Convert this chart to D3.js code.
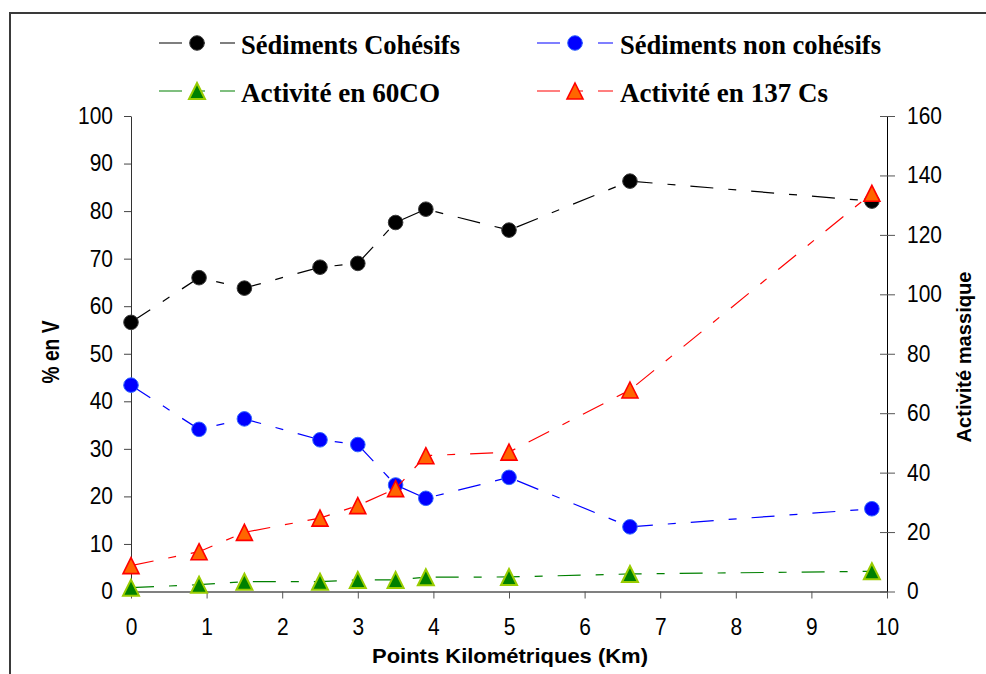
<!DOCTYPE html>
<html>
<head>
<meta charset="utf-8">
<script src="https://cdn.jsdelivr.net/npm/d3@7"></script>
<style>
  html, body { margin: 0; padding: 0; background: #fff; }
  svg { display: block; }
</style>
</head>
<body>
<svg id="chart" width="986" height="674"></svg>
<script>
// Sampling points along the river (km)
const km = [0, 0.9, 1.5, 2.5, 3, 3.5, 3.9, 5, 6.6, 9.8];
// Sediment fractions, % by volume (left axis)
const cohesifs    = [56.6, 66.0, 63.8, 68.2, 69.0, 77.6, 80.4, 76.0, 86.3, 82.1];
const nonCohesifs = [43.4, 34.1, 36.3, 31.9, 30.9, 22.4, 19.6, 24.0, 13.6, 17.4];
// Mass activities (right axis)
const co60  = [1.3, 2.3, 3.3, 3.3, 3.9, 3.9, 4.8, 4.9, 5.9, 6.8];
const cs137 = [8.7, 13.4, 19.9, 24.7, 28.9, 34.6, 45.7, 46.9, 67.8, 134];

const xTicks = [0, 1, 2, 3, 4, 5, 6, 7, 8, 9, 10];
const leftTicks = [0, 10, 20, 30, 40, 50, 60, 70, 80, 90, 100];
const rightTicks = [0, 20, 40, 60, 80, 100, 120, 140, 160];

const seriesNames = ["Sédiments Cohésifs", "Sédiments non cohésifs", "Activité en 60CO", "Activité en 137 Cs"];

const svg = d3.select("#chart");
const plotLeft = 131, plotRight = 887, plotTop = 116, plotBottom = 591.5;

const x = d3.scaleLinear().domain([0, 10]).range([plotLeft, plotRight]);
const yL = d3.scaleLinear().domain([0, 100]).range([plotBottom, plotTop]);
const yR = d3.scaleLinear().domain([0, 160]).range([plotBottom, plotTop]);

const dash = "23,15,8,15";
const tickFont = "'Liberation Sans', Arial, sans-serif";

// outer frame
svg.append("rect")
  .attr("x", 10).attr("y", 13)
  .attr("width", 1000).attr("height", 700)
  .attr("fill", "none").attr("stroke", "#3a3a3a").attr("stroke-width", 2);

// axes
const gx = svg.append("g").attr("transform", `translate(0,${plotBottom})`)
  .call(d3.axisBottom(x).tickValues(xTicks).tickSize(7).tickSizeOuter(0).tickPadding(20).tickFormat(d3.format("d")));
gx.select(".domain").attr("stroke", "#808080").attr("stroke-width", 2);
gx.selectAll(".tick line").attr("stroke", "#555");

const gl = svg.append("g").attr("transform", `translate(${plotLeft},0)`)
  .call(d3.axisLeft(yL).tickValues(leftTicks).tickSize(7).tickSizeOuter(0).tickPadding(11));
gl.select(".domain").attr("stroke", "#333");
gl.selectAll(".tick line").attr("stroke", "#444");

const gr = svg.append("g").attr("transform", `translate(${plotRight},0)`)
  .call(d3.axisRight(yR).tickValues(rightTicks).tickSize(8).tickSizeOuter(0).tickPadding(12));
gr.select(".domain").attr("stroke", "#000");
gr.selectAll(".tick line").attr("x1", -7).attr("stroke", "#555");

// tick labels: slightly narrow sans digits
svg.selectAll(".tick text")
  .attr("font-family", tickFont).attr("font-size", 23).attr("fill", "#000")
  .each(function () {
    const w = this.getComputedTextLength();
    d3.select(this).attr("textLength", w * 0.91).attr("lengthAdjust", "spacingAndGlyphs");
  });

// axis titles
svg.append("text")
  .attr("transform", "translate(59,352) rotate(-90)")
  .attr("text-anchor", "middle")
  .attr("font-family", tickFont).attr("font-weight", "bold").attr("font-size", 23)
  .attr("textLength", 63).attr("lengthAdjust", "spacingAndGlyphs")
  .text("% en V");

svg.append("text")
  .attr("transform", "translate(971,357) rotate(-90)")
  .attr("text-anchor", "middle")
  .attr("font-family", tickFont).attr("font-weight", "bold").attr("font-size", 21)
  .attr("textLength", 171).attr("lengthAdjust", "spacingAndGlyphs")
  .text("Activité massique");

svg.append("text")
  .attr("x", 510).attr("y", 663)
  .attr("text-anchor", "middle")
  .attr("font-family", tickFont).attr("font-weight", "bold").attr("font-size", 21)
  .attr("textLength", 276).attr("lengthAdjust", "spacingAndGlyphs")
  .text("Points Kilométriques (Km)");

// markers
function triangle(w, h) {
  return `M0,${-h / 2}L${w / 2},${h / 2}L${-w / 2},${h / 2}Z`;
}
const styles = [
  { line: "#000000", shape: "circle", fill: "#000000", stroke: "#3a3a3a", sw: 1 },
  { line: "#0000ff", shape: "circle", fill: "#0000ff", stroke: "#3366ff", sw: 1 },
  { line: "#008000", shape: "tri", fill: "#008000", stroke: "#99cc00", sw: 2 },
  { line: "#ff0000", shape: "tri", fill: "#ff6600", stroke: "#ff0000", sw: 1.6 }
];
function drawMarker(g, s, cx, cy) {
  if (s.shape === "circle") {
    g.append("circle").attr("cx", cx).attr("cy", cy).attr("r", 7.3)
      .attr("fill", s.fill).attr("stroke", s.stroke).attr("stroke-width", s.sw);
  } else {
    g.append("path").attr("d", triangle(16, 16))
      .attr("transform", `translate(${cx},${cy})`)
      .attr("fill", s.fill).attr("stroke", s.stroke).attr("stroke-width", s.sw)
      .attr("stroke-linejoin", "miter");
  }
}

const series = [
  { values: cohesifs, y: yL },
  { values: nonCohesifs, y: yL },
  { values: co60, y: yR },
  { values: cs137, y: yR }
];

series.forEach((sr, i) => {
  const s = styles[i];
  const g = svg.append("g");
  const line = d3.line().x((d, j) => x(km[j])).y(d => sr.y(d));
  g.append("path").datum(sr.values).attr("d", line)
    .attr("fill", "none").attr("stroke", s.line).attr("stroke-width", 1.2)
    .attr("stroke-dasharray", dash);
  sr.values.forEach((v, j) => drawMarker(g, s, x(km[j]), sr.y(v)));
});

// legend
const legendPos = [
  { x0: 159, cy: 43, tx: 241, base: 54, w: 219 },
  { x0: 537, cy: 43, tx: 620, base: 54, w: 261 },
  { x0: 159, cy: 91, tx: 241, base: 102, w: 199 },
  { x0: 537, cy: 91, tx: 620, base: 102, w: 208 }
];
legendPos.forEach((p, i) => {
  const s = styles[i];
  const g = svg.append("g");
  g.append("line").attr("x1", p.x0).attr("x2", p.x0 + 76).attr("y1", p.cy).attr("y2", p.cy)
    .attr("stroke", s.line).attr("stroke-width", 1.2).attr("stroke-dasharray", dash);
  drawMarker(g, s, p.x0 + 38, p.cy);
  g.append("text").attr("x", p.tx).attr("y", p.base)
    .attr("font-family", "'Liberation Serif', 'Times New Roman', serif")
    .attr("font-weight", "bold").attr("font-size", 28)
    .attr("textLength", p.w).attr("lengthAdjust", "spacingAndGlyphs")
    .text(seriesNames[i]);
});
</script>
</body>
</html>
